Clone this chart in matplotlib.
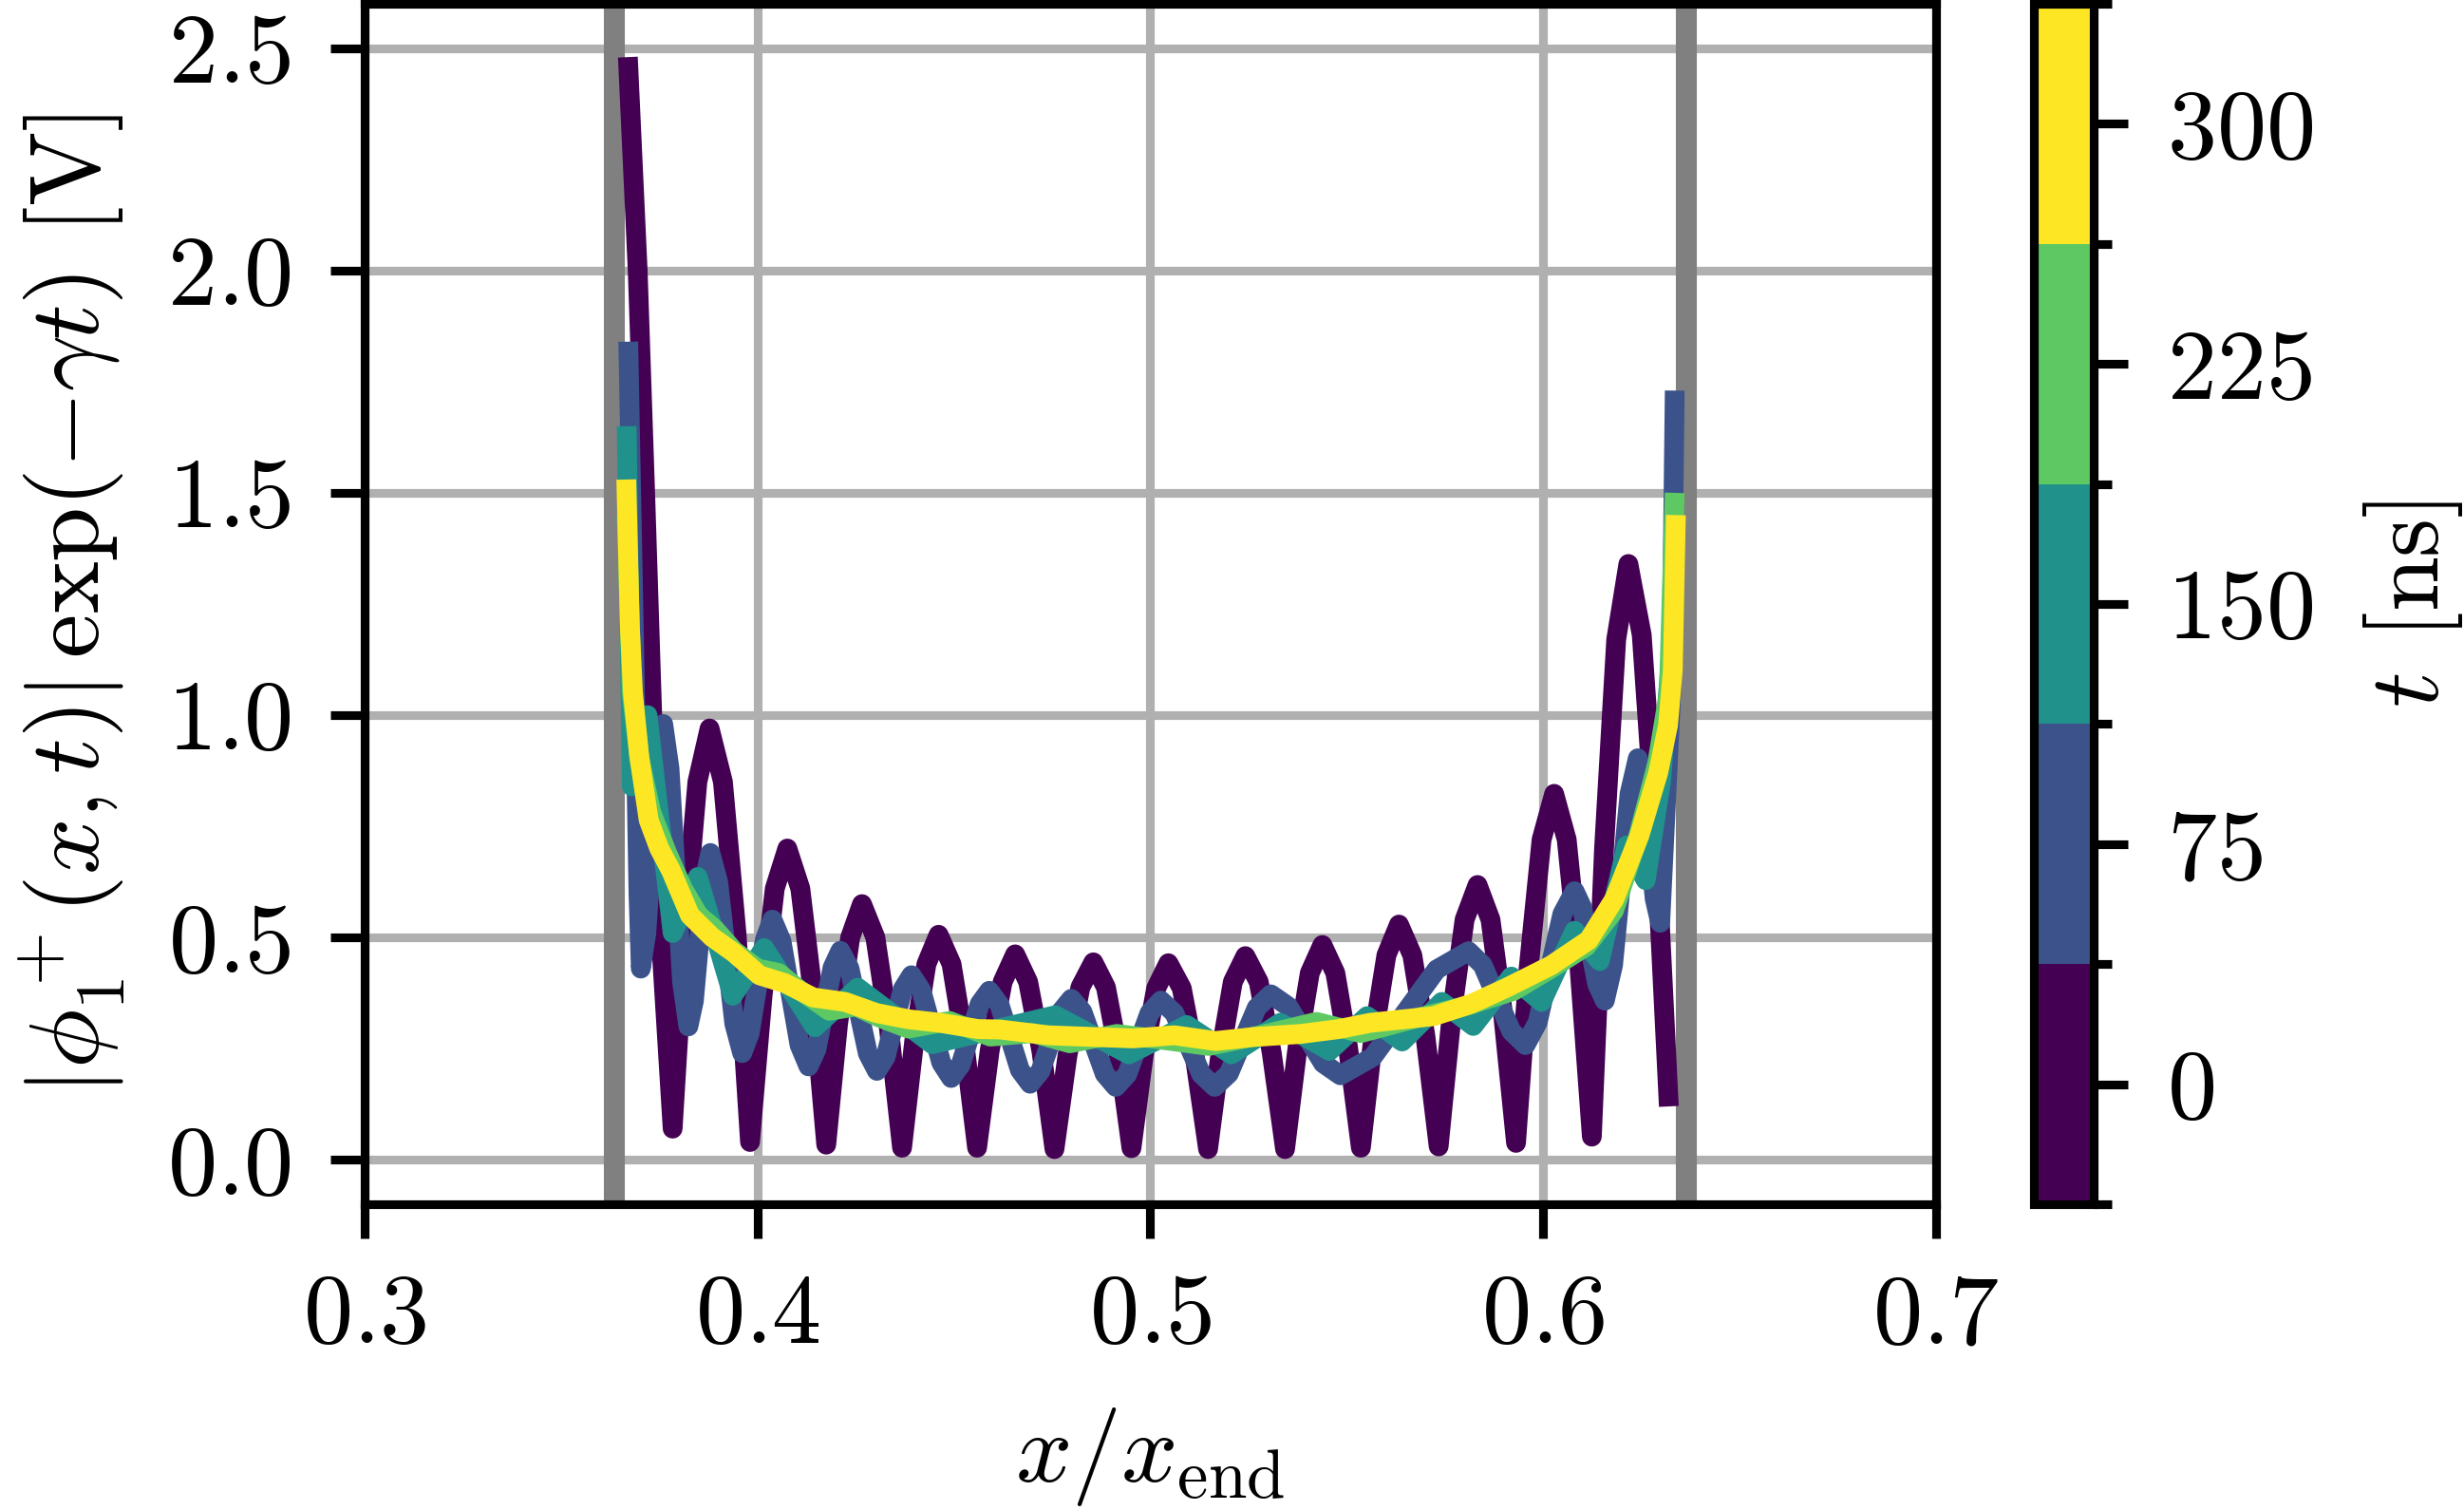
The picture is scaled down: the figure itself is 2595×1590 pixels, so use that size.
import numpy as np
import matplotlib.pyplot as plt

plt.rcParams.update({
    'font.family': 'serif',
    'font.serif': ['cmr10'],
    'mathtext.fontset': 'cm',
    'axes.formatter.use_mathtext': True,
    'font.size': 25,
    'axes.linewidth': 2.2,
    'xtick.major.width': 2.2, 'ytick.major.width': 2.2,
    'xtick.major.size': 8.6, 'ytick.major.size': 8.6,
    'ytick.minor.width': 2.2, 'ytick.minor.size': 4.5,
    'xtick.major.pad': 9, 'ytick.major.pad': 10,
})

# time of each snapshot [ns]
t_vals = [0, 75, 150, 225, 300]
# boundaries of the region (grey bars)
x_bounds = [0.3636, 0.6364]

# t = 0
x0 = [0.3670, 0.3695, 0.3714, 0.3732, 0.3754, 0.3784,
      0.3815, 0.3847, 0.3878, 0.3912, 0.3947, 0.3981,
      0.4013, 0.4044, 0.4076, 0.4109, 0.4142, 0.4175,
      0.4205, 0.4236, 0.4266, 0.4300, 0.4334, 0.4368,
      0.4399, 0.4430, 0.4461, 0.4494, 0.4526, 0.4559,
      0.4591, 0.4624, 0.4656, 0.4689, 0.4723, 0.4756,
      0.4789, 0.4822, 0.4855, 0.4887, 0.4920, 0.4952,
      0.4983, 0.5015, 0.5046, 0.5080, 0.5113, 0.5147,
      0.5179, 0.5210, 0.5242, 0.5276, 0.5309, 0.5343,
      0.5375, 0.5406, 0.5438, 0.5471, 0.5503, 0.5536,
      0.5568, 0.5601, 0.5633, 0.5667, 0.5700, 0.5734,
      0.5767, 0.5800, 0.5833, 0.5866, 0.5898, 0.5931,
      0.5963, 0.5996, 0.6028, 0.6060, 0.6092, 0.6124,
      0.6155, 0.6186, 0.6217, 0.6251, 0.6286, 0.6320]
y0 = [2.48, 2.00, 1.50, 1.00, 0.50, 0.07,
      0.52, 0.85, 0.97, 0.85, 0.505, 0.040,
      0.37, 0.61, 0.70, 0.61, 0.367, 0.034,
      0.305, 0.50, 0.575, 0.50, 0.30, 0.027,
      0.267, 0.44, 0.506, 0.44, 0.267, 0.027,
      0.245, 0.40, 0.462, 0.40, 0.243, 0.024,
      0.234, 0.388, 0.444, 0.388, 0.235, 0.026,
      0.234, 0.386, 0.442, 0.386, 0.233, 0.024,
      0.241, 0.40, 0.458, 0.40, 0.241, 0.024,
      0.254, 0.42, 0.483, 0.42, 0.255, 0.027,
      0.278, 0.46, 0.529, 0.46, 0.28, 0.030,
      0.324, 0.54, 0.618, 0.54, 0.328, 0.038,
      0.43, 0.72, 0.823, 0.72, 0.44, 0.052,
      0.70, 1.17, 1.34, 1.18, 0.73, 0.12]

# t = 75
x1 = [0.3671, 0.3685, 0.3697, 0.3703,
      0.3717, 0.3746, 0.3760, 0.3776, 0.3808, 0.3824,
      0.3838, 0.3866, 0.3880, 0.3900, 0.3941, 0.3961,
      0.3980, 0.4019, 0.4038, 0.4061, 0.4107, 0.4130,
      0.4150, 0.4191, 0.4211, 0.4234, 0.4281, 0.4304,
      0.4326, 0.4370, 0.4392, 0.4417, 0.4468, 0.4493,
      0.4517, 0.4566, 0.4590, 0.4616, 0.4668, 0.4694,
      0.4720, 0.4773, 0.4799, 0.4827, 0.4884, 0.4912,
      0.4941, 0.4998, 0.5027, 0.5061, 0.5130, 0.5164,
      0.5200, 0.5271, 0.5307, 0.5351, 0.5440, 0.5484,
      0.5566, 0.5729, 0.5810, 0.5846, 0.5919, 0.5955,
      0.5986, 0.6049, 0.6080, 0.6099, 0.6138, 0.6157,
      0.6178, 0.6220, 0.6241, 0.6255, 0.6284, 0.6298,
      0.6326, 0.6335]
y1 = [1.84, 1.20, 0.60, 0.43,
      0.51, 0.90, 0.98, 0.88, 0.40, 0.30,
      0.357, 0.633, 0.69, 0.624, 0.306, 0.24,
      0.284, 0.496, 0.54, 0.492, 0.258, 0.21,
      0.248, 0.432, 0.47, 0.431, 0.239, 0.20,
      0.231, 0.384, 0.415, 0.381, 0.218, 0.184,
      0.213, 0.351, 0.38, 0.349, 0.202, 0.171,
      0.199, 0.334, 0.362, 0.333, 0.193, 0.164,
      0.192, 0.330, 0.358, 0.330, 0.192, 0.164,
      0.194, 0.342, 0.372, 0.345, 0.217, 0.19,
      0.231, 0.428, 0.469, 0.438, 0.289, 0.258,
      0.309, 0.553, 0.604, 0.568, 0.394, 0.358,
      0.438, 0.823, 0.903, 0.849, 0.587, 0.533,
      1.05, 1.73]

# t = 150
x2 = [0.3667, 0.3680, 0.3720, 0.3784, 0.3848, 0.3937, 0.4017, 0.4146,
      0.4255, 0.4445, 0.4758, 0.4945, 0.5093, 0.5206, 0.5331, 0.5456,
      0.5552, 0.5641, 0.5742, 0.5822, 0.5919, 0.5996, 0.6080, 0.6144,
      0.6213, 0.6261, 0.6300, 0.6330]
y2 = [1.65, 0.84, 1.00, 0.51, 0.636, 0.369, 0.476, 0.298,
      0.387, 0.26, 0.325, 0.237, 0.303, 0.237, 0.308, 0.245,
      0.323, 0.266, 0.355, 0.301, 0.412, 0.355, 0.515, 0.447,
      0.707, 0.629, 0.85, 1.18]

# t = 225
x3 = [0.3667, 0.3680, 0.3700, 0.3730, 0.3770, 0.3810, 0.3850, 0.3890,
      0.3940, 0.4000, 0.4054, 0.4110, 0.4183, 0.4250, 0.4310, 0.4384,
      0.4489, 0.4593, 0.4700, 0.4795, 0.4915, 0.5030, 0.5149, 0.5280,
      0.5423, 0.5536, 0.5697, 0.5800, 0.5925, 0.6020, 0.6110, 0.6180,
      0.6240, 0.6290, 0.6320, 0.6335]
y3 = [1.45, 1.05, 0.90, 0.78, 0.69, 0.61, 0.55, 0.52,
      0.47, 0.43, 0.42, 0.38, 0.335, 0.345, 0.32, 0.295,
      0.312, 0.277, 0.285, 0.262, 0.283, 0.27, 0.256, 0.28,
      0.31, 0.285, 0.323, 0.345, 0.38, 0.43, 0.48, 0.56,
      0.72, 0.89, 1.05, 1.50]

# t = 300
x4 = [0.3666, 0.3675, 0.3683, 0.3699, 0.3723, 0.3750, 0.3780, 0.3828,
      0.3884, 0.3941, 0.4005, 0.4070, 0.4142, 0.4223, 0.4303, 0.4384,
      0.4465, 0.4561, 0.4618, 0.4739, 0.4859, 0.4956, 0.5061, 0.5166,
      0.5262, 0.5383, 0.5480, 0.5560, 0.5721, 0.5818, 0.5907, 0.6020,
      0.6116, 0.6181, 0.6245, 0.6293, 0.6318, 0.6330, 0.6338]
y4 = [1.53, 1.20, 1.05, 0.907, 0.764, 0.70, 0.650, 0.550,
      0.501, 0.465, 0.415, 0.397, 0.365, 0.355, 0.330, 0.316,
      0.308, 0.294, 0.293, 0.280, 0.276, 0.273, 0.280, 0.267,
      0.276, 0.283, 0.294, 0.308, 0.323, 0.351, 0.387, 0.437,
      0.494, 0.586, 0.729, 0.871, 0.978, 1.10, 1.45]

xs = [x0, x1, x2, x3, x4]
ys = [y0, y1, y2, y3, y4]

cmap = plt.get_cmap('viridis', len(t_vals))
dt = t_vals[1] - t_vals[0]
norm = plt.Normalize(t_vals[0] - dt / 2, t_vals[-1] + dt / 2)

fig = plt.figure(figsize=(8.65, 5.3), dpi=300)
ax = fig.add_axes([0.148, 0.2025, 0.6377, 0.795])
cax = fig.add_axes([0.8254, 0.2025, 0.0243, 0.795])

ax.grid(True, color='#b0b0b0', lw=2.2)
ax.set_axisbelow(True)
for xb in x_bounds:
    ax.axvline(xb, color='gray', lw=5.3, zorder=1.5)

for t, x, y in zip(t_vals, xs, ys):
    ax.plot(x, y, color=cmap(norm(t)), lw=5, zorder=2,
            solid_joinstyle='round', solid_capstyle='butt')

ax.set_xlim(0.3, 0.7)
ax.set_ylim(-0.1, 2.6)
ax.set_xticks([0.3, 0.4, 0.5, 0.6, 0.7])
ax.set_yticks([0.0, 0.5, 1.0, 1.5, 2.0, 2.5])
ax.set_xlabel(r'$x/x_\mathrm{end}$', labelpad=11)
ax.set_ylabel(r'$|\phi_1^+(x,t)|\,\exp(-\gamma t)$ [V]', labelpad=10)

sm = plt.cm.ScalarMappable(norm=norm, cmap=cmap)
cb = fig.colorbar(sm, cax=cax)
cb.set_ticks(t_vals)
bounds = [t - dt / 2 for t in t_vals] + [t_vals[-1] + dt / 2]
cb.set_ticks(bounds, minor=True)
cb.outline.set_linewidth(2.2)
cb.ax.tick_params(which='major', length=8.6, width=2.2, pad=10)
cb.ax.tick_params(which='minor', length=4.5, width=2.2)
cb.set_label(r'$t$ [ns]', labelpad=12)

fig.savefig('out.png', dpi=300)
